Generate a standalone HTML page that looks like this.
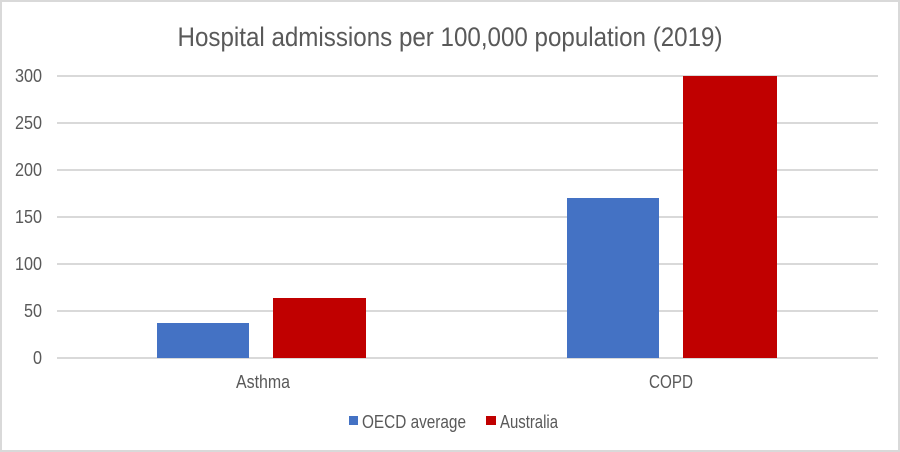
<!DOCTYPE html>
<html><head><meta charset="utf-8"><style>
html,body{margin:0;padding:0;background:#fff}
svg{display:block}
text{font-family:"Liberation Sans",Arial,sans-serif;fill:#595959}
</style></head><body>
<svg width="900" height="452" viewBox="0 0 900 452" xmlns="http://www.w3.org/2000/svg">
<rect x="1" y="1" width="898" height="450" fill="#fff" stroke="#d9d9d9" stroke-width="2"/>
<text x="450" y="46" font-size="27" text-anchor="middle" textLength="545" lengthAdjust="spacingAndGlyphs">Hospital admissions  per 100,000 population (2019)</text>
<g stroke="#d9d9d9" stroke-width="2">
<line x1="57" x2="878" y1="76" y2="76"/>
<line x1="57" x2="878" y1="123" y2="123"/>
<line x1="57" x2="878" y1="170" y2="170"/>
<line x1="57" x2="878" y1="217" y2="217"/>
<line x1="57" x2="878" y1="264" y2="264"/>
<line x1="57" x2="878" y1="311" y2="311"/>
<line x1="57" x2="878" y1="358" y2="358"/>
</g>
<g font-size="18" text-anchor="end">
<text x="42" y="82" textLength="27" lengthAdjust="spacingAndGlyphs">300</text>
<text x="42" y="129" textLength="27" lengthAdjust="spacingAndGlyphs">250</text>
<text x="42" y="176" textLength="27" lengthAdjust="spacingAndGlyphs">200</text>
<text x="42" y="223" textLength="27" lengthAdjust="spacingAndGlyphs">150</text>
<text x="42" y="270" textLength="27" lengthAdjust="spacingAndGlyphs">100</text>
<text x="42" y="317" textLength="18" lengthAdjust="spacingAndGlyphs">50</text>
<text x="42" y="364" textLength="9" lengthAdjust="spacingAndGlyphs">0</text>
</g>
<rect x="157" y="323" width="92" height="35" fill="#4472c4"/>
<rect x="273" y="298" width="93" height="60" fill="#c00000"/>
<rect x="567" y="198" width="92" height="160" fill="#4472c4"/>
<rect x="683" y="76" width="94" height="282" fill="#c00000"/>
<g font-size="18">
<text x="236" y="388" textLength="54" lengthAdjust="spacingAndGlyphs">Asthma</text>
<text x="649" y="388" textLength="44" lengthAdjust="spacingAndGlyphs">COPD</text>
</g>
<rect x="349" y="416" width="9" height="9" fill="#4472c4"/>
<text x="362" y="428" font-size="18" textLength="104" lengthAdjust="spacingAndGlyphs">OECD average</text>
<rect x="486" y="416" width="10" height="9" fill="#c00000"/>
<text x="500" y="428" font-size="18" textLength="58" lengthAdjust="spacingAndGlyphs">Australia</text>
</svg>
</body></html>
